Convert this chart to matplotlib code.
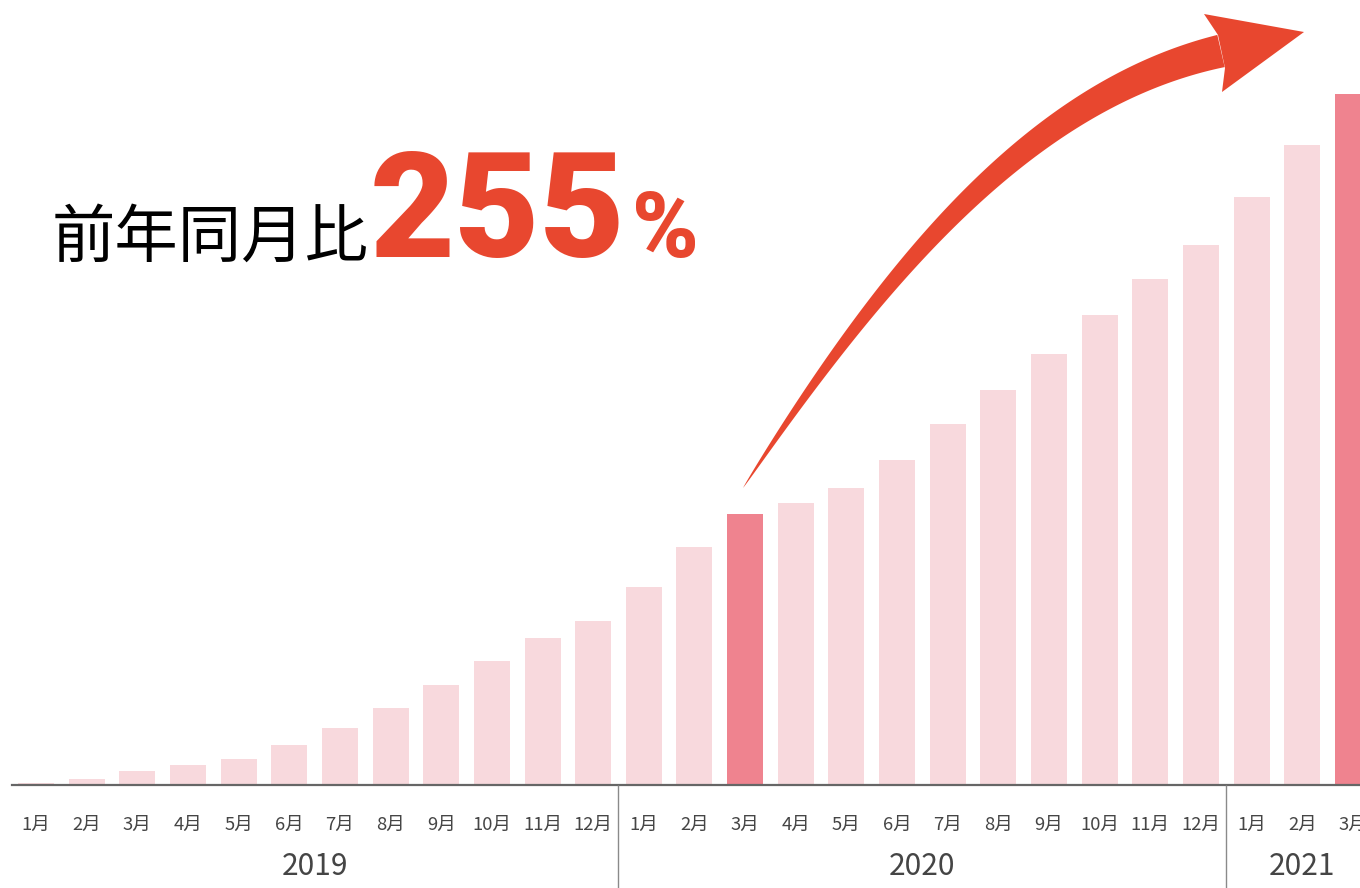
import numpy as np
import matplotlib.pyplot as plt
from matplotlib.patches import Polygon

# 月別の指数 (2020年3月 = 100)
months = ['1月', '2月', '3月', '4月', '5月', '6月', '7月', '8月', '9月', '10月', '11月', '12月',
          '1月', '2月', '3月', '4月', '5月', '6月', '7月', '8月', '9月', '10月', '11月', '12月',
          '1月', '2月', '3月']
values = [0.7, 2.2, 5.2, 7.4, 9.6, 14.8, 21.0, 28.4, 36.9, 45.8, 54.2, 60.5,
          73.1, 87.8, 100.0, 104.1, 109.6, 119.9, 133.2, 145.8, 159.0, 173.4, 186.7, 199.3,
          217.0, 236.2, 255.0]
years = ['2019', '2020', '2021']
year_sizes = [12, 12, 3]
highlight = [14, 26]   # 2020年3月と2021年3月

light = '#f8d9dd'
dark = '#ef838f'
red = '#e8472f'
gray = '#454545'

W, H = 1360, 888
fig = plt.figure(figsize=(W / 100, H / 100), dpi=100)

# グラフ本体
ax = fig.add_axes([0, 0, 1, 1])
pitch = 50.65          # 棒の間隔(px)
ppu = 2.71             # 1単位あたりのpx
x0, base = 36, 103     # 最初の棒の中心と基線の位置(px)
ax.set_xlim(-x0 / pitch, (W - x0) / pitch)
ax.set_ylim(-base / ppu, (H - base) / ppu)
ax.axis('off')

x = np.arange(len(values))
colors = [dark if i in highlight else light for i in x]
ax.bar(x, values, width=36 / pitch, color=colors, zorder=2)
ax.axhline(0, xmin=12 / W, xmax=1, color='#666666', lw=1.6, zorder=3)

# 年の区切り線
edges = np.cumsum(year_sizes)[:-1] - 0.5
ax.vlines(edges, -base / ppu, 0, color='#8a8a8a', lw=1.0, zorder=3)

jp = ['Noto Sans CJK JP', 'DejaVu Sans']
month_y = (H - 825 - base) / ppu
year_y = (H - 866 - base) / ppu
for i, m in enumerate(months):
    ax.text(i, month_y, m, ha='center', va='center', fontsize=13.3,
            color=gray, family=jp)
start = 0
for y, n in zip(years, year_sizes):
    ax.text(start + (n - 1) / 2, year_y, y, ha='center', va='center',
            fontsize=21.5, color=gray, family=jp)
    start += n

# 見出しと矢印 (px座標)
ov = fig.add_axes([0, 0, 1, 1], facecolor='none')
ov.set_xlim(0, W)
ov.set_ylim(H, 0)
ov.axis('off')

ov.text(52, 257, '前年同月比', fontsize=45.6, color='black', family=jp,
        ha='left', va='baseline')
ov.text(370, 257, '255', fontsize=106, color=red, family='Roboto',
        fontweight='black', ha='left', va='baseline')
ov.text(632, 257, '%', fontsize=65, color=red, family='Roboto',
        fontweight='black', ha='left', va='baseline')

# 先細りの曲線矢印
p0 = np.array([743, 488])
p3 = np.array([1221, 51])
d0 = np.array([0.547, -0.837])
d3 = np.array([0.975, -0.223])
p1 = p0 + 250 * d0
p2 = p3 - 200 * d3
t = np.linspace(0, 1, 200)[:, None]
pts = (1 - t) ** 3 * p0 + 3 * (1 - t) ** 2 * t * p1 + 3 * (1 - t) * t ** 2 * p2 + t ** 3 * p3
der = 3 * (1 - t) ** 2 * (p1 - p0) + 6 * (1 - t) * t * (p2 - p1) + 3 * t ** 2 * (p3 - p2)
tan = der / np.linalg.norm(der, axis=1)[:, None]
nrm = np.column_stack([tan[:, 1], -tan[:, 0]])
half = (33 / 2) * t[:, 0] ** 0.75
upper = pts + nrm * half[:, None]
lower = pts - nrm * half[:, None]
shaft = np.vstack([upper, lower[::-1]])
ov.add_patch(Polygon(shaft, closed=True, color=red, lw=0))

head = np.array([[1218, 35], [1204, 14], [1304, 32], [1222, 92], [1225, 68]])
ov.add_patch(Polygon(head, closed=True, color=red, lw=0))

fig.savefig('out.png', dpi=100)
